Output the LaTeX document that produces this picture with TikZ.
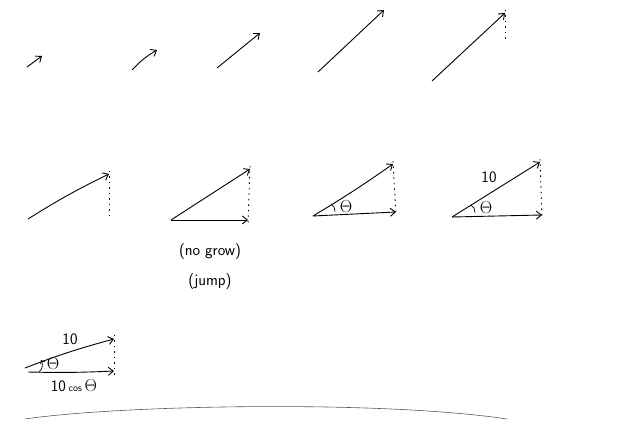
\documentclass[tikz,border=0pt]{standalone}
\usetikzlibrary{arrows.meta}
\begin{document}
\begin{tikzpicture}[x=1pt,y=-1pt,
  vec/.style={line width=0.9pt,-{Straight Barb[length=5pt,width=8pt]}},
  dotline/.style={line width=0.9pt,dash pattern=on 1.5pt off 4pt},
  lbl/.style={font=\sffamily\fontsize{16}{19}\selectfont,inner sep=1pt},
  thl/.style={font=\fontsize{16}{19}\selectfont,inner sep=1pt}]
\useasboundingbox (0,0) rectangle (640,443);
% row 1
\coordinate (a1) at (27,67); \coordinate (b1) at (42,56);
\draw[vec] (a1) -- (b1);
\coordinate (a2) at (132,70); \coordinate (b2) at (157,50);
\draw[vec] (a2) to[bend left=8] (b2);
\coordinate (a3) at (217,68); \coordinate (b3) at (260,33);
\draw[vec] (a3) -- (b3);
\coordinate (a4) at (318,72); \coordinate (b4) at (384,10);
\draw[vec] (a4) -- (b4);
\coordinate (a5) at (432,81); \coordinate (b5) at (505,13);
\coordinate (c5) at (505,42);
\draw[vec] (a5) -- (b5);
\draw[dotline] ([yshift=3pt]b5) -- (c5);
% row 2
\coordinate (a6) at (28,219); \coordinate (b6) at (109,174);
\coordinate (c6) at (109,220);
\draw[vec] (a6) to[bend left=3] (b6);
\draw[dotline] ([yshift=3pt]b6) -- (c6);
\coordinate (a7) at (171,220); \coordinate (b7) at (250,169);
\coordinate (c7) at (248,220);
\draw[vec] (a7) -- (b7);
\draw[vec] (a7) -- (c7);
\draw[dotline] ([yshift=3pt]b7) -- ([yshift=-4pt]c7);
\node[lbl] (t1) at (210,252) {(no grow)};
\node[lbl] (t2) at (210,282) {(jump)};
\coordinate (a8) at (313,216); \coordinate (b8) at (393,164);
\coordinate (c8) at (396,212);
\draw[vec] (a8) to[bend right=2] (b8);
\draw[vec] (a8) -- (c8);
\draw[dotline] ([yshift=3pt]b8) -- ([yshift=-4pt]c8);
\draw[line width=0.7pt] (331,204) arc[start angle=60,end angle=-5,radius=8pt];
\node[thl] (th8) at (346,207) {$\Theta$};
\coordinate (a9) at (452,217); \coordinate (b9) at (540,162);
\coordinate (c9) at (542,215);
\draw[vec] (a9) -- (b9);
\draw[vec] (a9) -- (c9);
\draw[dotline] ([yshift=3pt]b9) -- ([yshift=-4pt]c9);
\draw[line width=0.7pt] (471,205) arc[start angle=60,end angle=-5,radius=8pt];
\node[thl] (th9) at (486,208) {$\Theta$};
\node[lbl] (ten9) at (489,177) {10};
% row 3
\coordinate (a10) at (25,368); \coordinate (b10) at (114,339);
\coordinate (c10) at (114,371); \coordinate (d10) at (28,372);
\draw[vec] (a10) to[bend left=3] (b10);
\draw[vec] (d10) to[bend right=2] (c10);
\draw[dotline] ([yshift=4pt]b10) -- ([yshift=-4pt]c10);
\coordinate (s10) at (39,372); \coordinate (e10) at (41,360);
\draw[line width=0.7pt,-{Straight Barb[length=3pt,width=5pt]}] (s10) to[bend right=40] (e10);
\node[thl] (th10) at (53,364) {$\Theta$};
\node[lbl] (ten10) at (70,339) {10};
\node[lbl] (cos10) at (74,386) {10\,{\normalsize cos}\,{\fontsize{16}{19}\selectfont$\Theta$}};
% bottom line
\coordinate (l1) at (25,419); \coordinate (l2) at (507,419);
\draw[line width=0.6pt,gray!70!black] (l1) .. controls (120,405) and (380,400) .. (l2);
\end{tikzpicture}
\end{document}
